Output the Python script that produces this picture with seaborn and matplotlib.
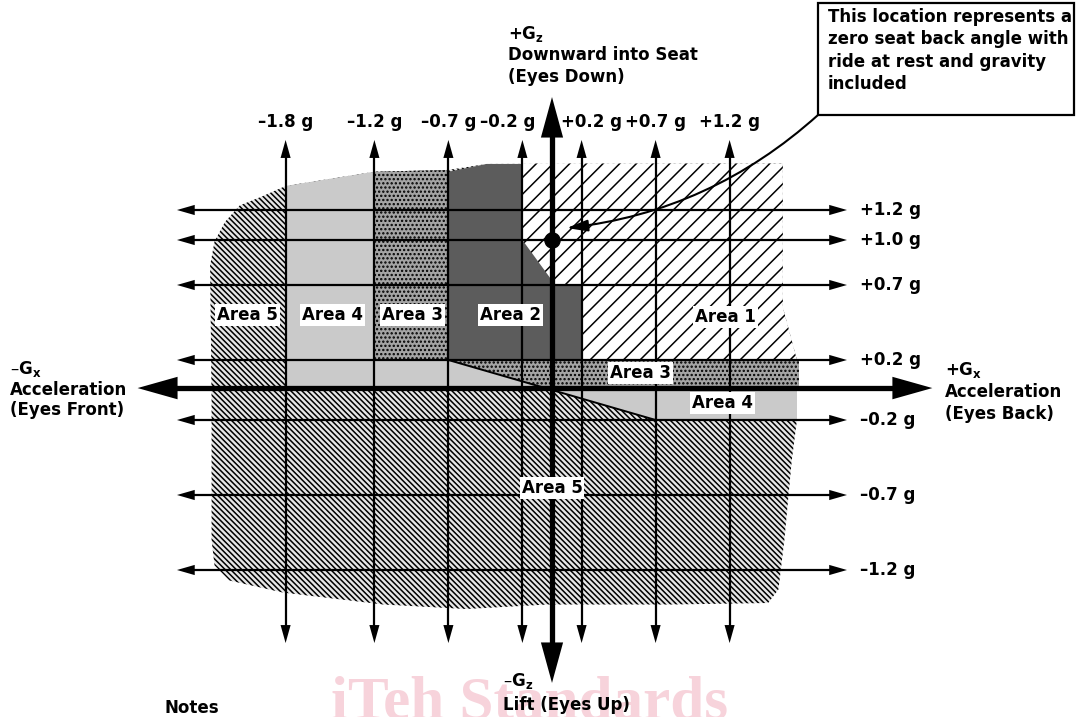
import numpy as np
import matplotlib
matplotlib.use("Agg")
import matplotlib.pyplot as plt
import seaborn as sns
from matplotlib.patches import Polygon, Rectangle

# ---------------- data ----------------
x_levels = [-1.8, -1.2, -0.7, -0.2, 0.2, 0.7, 1.2]
x_labels = ["–1.8 g", "–1.2 g", "–0.7 g", "–0.2 g", "+0.2 g", "+0.7 g", "+1.2 g"]
y_levels = [1.2, 1.0, 0.7, 0.2, -0.2, -0.7, -1.2]
y_labels = ["+1.2 g", "+1.0 g", "+0.7 g", "+0.2 g", "–0.2 g", "–0.7 g", "–1.2 g"]

# zone outlines in g units (Gx, Gz)
area5_outline = [(-1.80, 1.36), (-1.96, 1.29), (-2.11, 1.23), (-2.21, 1.12), (-2.28, 0.99),
                 (-2.31, 0.83), (-2.30, -0.07), (-2.30, -1.00), (-2.28, -1.17), (-2.18, -1.27),
                 (-1.82, -1.35), (-1.14, -1.43), (-0.58, -1.46), (-0.03, -1.43), (0.80, -1.43),
                 (1.46, -1.42), (1.53, -1.33), (1.57, -1.00), (1.62, -0.47), (1.655, -0.20),
                 (1.655, 0.20), (1.56, 0.55), (1.56, 1.51), (-0.44, 1.507), (-0.70, 1.467),
                 (-1.20, 1.455)]
area4_left = [(-1.80, 1.36), (-1.20, 1.455), (-1.20, 0.20), (-0.70, 0.20), (0.0, 0.0), (-1.80, 0.0)]
area4_right = [(0.0, 0.0), (1.655, 0.0), (1.655, -0.20), (0.70, -0.20)]
area3_left = [(-1.20, 1.455), (-0.70, 1.467), (-0.70, 0.20), (-1.20, 0.20)]
area3_band = [(-0.70, 0.20), (1.67, 0.20), (1.67, 0.0), (0.0, 0.0)]
area1 = [(-0.20, 1.51), (1.56, 1.51), (1.56, 0.55), (1.655, 0.20), (-0.20, 0.20)]
area2 = [(-0.70, 1.455), (-0.44, 1.507), (-0.20, 1.507), (-0.20, 1.00), (0.0, 0.73),
         (0.0, 0.70), (0.20, 0.70), (0.20, 0.20), (-0.70, 0.20)]
diag_x = [-0.7, 0.7]
diag_y = [0.2, -0.2]

area_names = ["Area 5", "Area 4", "Area 3", "Area 2", "Area 1", "Area 3", "Area 4", "Area 5"]
area_x = [-2.06, -1.48, -0.94, -0.28, 1.17, 0.595, 1.155, 0.0]
area_y = [0.50, 0.50, 0.50, 0.50, 0.49, 0.113, -0.087, -0.653]

rest_point = (0.0, 1.0)

# ---------------- style ----------------
sns.set_theme(style="white")
plt.rcParams["font.family"] = ["DejaVu Sans"]
plt.rcParams["mathtext.fontset"] = "dejavusans"
plt.rcParams["hatch.linewidth"] = 1.1
plt.rcParams["text.color"] = "black"

fig = plt.figure(figsize=(10.78, 7.17), dpi=100)
ax = fig.add_axes([0, 0, 1, 1])
ax.set_xlim(-552 / 148, 526 / 148)
ax.set_ylim(-327 / 150, 390 / 150)
ax.axis("off")

FS = 12


def poly(pts, **kw):
    ax.add_patch(Polygon(pts, closed=True, **kw))


poly(area5_outline, facecolor="#e6e6e6", edgecolor="black", hatch="\\" * 6, lw=0, zorder=1)
poly(area4_left, facecolor="#cacaca", edgecolor="none", lw=0, zorder=2)
poly(area4_right, facecolor="#cacaca", edgecolor="none", lw=0, zorder=2)
poly(area3_left, facecolor="#a4a4a4", edgecolor="black", hatch="....", lw=0, zorder=2)
poly(area3_band, facecolor="#a4a4a4", edgecolor="black", hatch="....", lw=0, zorder=2)
poly(area1, facecolor="white", edgecolor="black", hatch="//", lw=0, zorder=2)
poly(area2, facecolor="#5c5c5c", edgecolor="none", lw=0, zorder=3)
ax.plot(diag_x, diag_y, color="black", lw=1.4, zorder=4)


def head(tip, d, hl, hw, z):
    dx, dy = d[0] * hl, d[1] * hl
    ax.arrow(tip[0] - dx, tip[1] - dy, dx, dy, width=0, head_width=hw, head_length=hl,
             length_includes_head=True, fc="black", ec="none", zorder=z)


# thin grid arrows
V_TOP, V_BOT = 1.667, -1.687
H_LEFT, H_RIGHT = -2.534, 1.993
HL, HW = 0.12, 0.068
for x in x_levels:
    ax.plot([x, x], [V_BOT + HL * 0.9, V_TOP - HL * 0.9], color="black", lw=1.6, zorder=5)
    head((x, V_TOP), (0, 1), HL, HW, 5)
    head((x, V_BOT), (0, -1), HL, HW, 5)
for y in y_levels:
    ax.plot([H_LEFT + HL * 0.9, H_RIGHT - HL * 0.9], [y, y], color="black", lw=1.6, zorder=5)
    head((H_RIGHT, y), (1, 0), HL, HW, 5)
    head((H_LEFT, y), (-1, 0), HL, HW, 5)

# main axes
MHL, MHW = 0.27, 0.15
MX_L, MX_R = -2.80, 2.57
MY_T, MY_B = 1.953, -1.953
ax.plot([MX_L + MHL * 0.9, MX_R - MHL * 0.9], [0.013, 0.013], color="black", lw=3.8, zorder=6,
        solid_capstyle="butt")
head((MX_R, 0.013), (1, 0), MHL, MHW, 6)
head((MX_L, 0.013), (-1, 0), MHL, MHW, 6)
ax.plot([0, 0], [MY_B + MHL * 0.9, MY_T - MHL * 0.9], color="black", lw=3.8, zorder=6,
        solid_capstyle="butt")
head((0, MY_T), (0, 1), MHL, MHW, 6)
head((0, MY_B), (0, -1), MHL, MHW, 6)

# rest point
sns.scatterplot(x=[rest_point[0]], y=[rest_point[1]], s=120, color="black", edgecolor="black",
                zorder=7, ax=ax, legend=False)

# tick labels
shift = {-0.2: -0.10, 0.2: 0.065}
for x, lab in zip(x_levels, x_labels):
    ax.text(x + shift.get(x, 0.0), 1.787, lab, ha="center", va="center", fontsize=FS,
            fontweight="bold", zorder=8)
for y, lab in zip(y_levels, y_labels):
    ax.text(2.08, y, lab, ha="left", va="center", fontsize=FS, fontweight="bold", zorder=8)

# area labels
for name, x, y in zip(area_names, area_x, area_y):
    ax.text(x, y, name, ha="center", va="center", fontsize=FS, fontweight="bold", zorder=10,
            bbox=dict(boxstyle="square,pad=0.12", fc="white", ec="none"))


# axis captions
def cap(x, y, s):
    ax.text(x, y, s, ha="left", va="center", fontsize=FS, fontweight="bold", zorder=8)


cap(-3.66, 0.14, r"–G$_{\mathbf{x}}$")
cap(-3.66, 0.0, "Acceleration")
cap(-3.66, -0.135, "(Eyes Front)")
cap(2.655, 0.135, r"+G$_{\mathbf{x}}$")
cap(2.655, -0.013, "Acceleration")
cap(2.655, -0.16, "(Eyes Back)")
cap(-0.30, 2.375, r"+G$_{\mathbf{z}}$")
cap(-0.30, 2.233, "Downward into Seat")
cap(-0.30, 2.087, "(Eyes Down)")
cap(-0.33, -1.94, r"–G$_{\mathbf{z}}$")
cap(-0.33, -2.10, "Lift (Eyes Up)")
cap(-2.62, -2.12, "Notes")

# watermark
ax.text(-0.15, -2.19, "iTeh Standards", ha="center", va="baseline", fontsize=44,
        fontweight="bold", family=["Liberation Serif"], color="#f7d3db", zorder=0)

# callout box
ax.add_patch(Rectangle((1.797, 1.833), 1.73, 0.747, facecolor="white", edgecolor="black",
                       lw=1.6, zorder=9))
ax.text(1.865, 2.545, "This location represents a\nzero seat back angle with\n"
        "ride at rest and gravity\nincluded", ha="left", va="top", fontsize=FS,
        fontweight="bold", linespacing=1.3, zorder=10)
ax.annotate("", xy=(0.10, 1.08), xytext=(1.797, 1.833),
            arrowprops=dict(arrowstyle="-|>,head_length=0.9,head_width=0.25",
                            connectionstyle="arc3,rad=-0.16", lw=1.5, color="black",
                            shrinkA=0, shrinkB=0, mutation_scale=14), zorder=9)

fig.savefig("out.png", dpi=100)
